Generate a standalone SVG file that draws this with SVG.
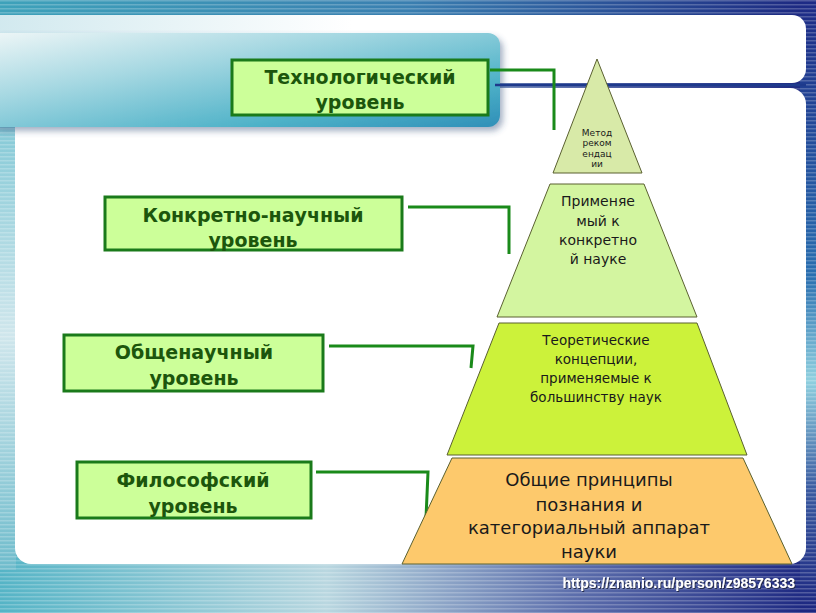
<svg xmlns="http://www.w3.org/2000/svg" width="816" height="613" viewBox="0 0 816 613">
<defs>
  <linearGradient id="bgH" x1="0" y1="0" x2="1" y2="0">
    <stop offset="0" stop-color="#55b4c6"/>
    <stop offset="0.4" stop-color="#b9d7e0"/>
    <stop offset="0.7" stop-color="#5d6fac"/>
    <stop offset="1" stop-color="#1b2680"/>
  </linearGradient>
  <linearGradient id="topBand" x1="0" y1="0" x2="1" y2="0">
    <stop offset="0" stop-color="#3ea2ba"/>
    <stop offset="0.5" stop-color="#3a7fb0"/>
    <stop offset="1" stop-color="#1c2680"/>
  </linearGradient>
  <linearGradient id="rightStrip" x1="0" y1="0" x2="0" y2="1">
    <stop offset="0" stop-color="#1d2a85"/>
    <stop offset="0.45" stop-color="#2a6fb0"/>
    <stop offset="0.62" stop-color="#8fd0df"/>
    <stop offset="0.8" stop-color="#3a5aa0"/>
    <stop offset="1" stop-color="#1c2680"/>
  </linearGradient>
  <linearGradient id="leftStrip" x1="0" y1="0" x2="0" y2="1">
    <stop offset="0" stop-color="#7cc6d4"/>
    <stop offset="0.5" stop-color="#cfe6ec"/>
    <stop offset="1" stop-color="#6fbccc"/>
  </linearGradient>
  <linearGradient id="tealBlock" x1="0" y1="0" x2="1" y2="1">
    <stop offset="0" stop-color="#eef6f7"/>
    <stop offset="0.35" stop-color="#a6d8e2"/>
    <stop offset="0.75" stop-color="#4eb2c8"/>
    <stop offset="1" stop-color="#2f8fb8"/>
  </linearGradient>
  <linearGradient id="upperWhite" x1="0" y1="0" x2="1" y2="0">
    <stop offset="0" stop-color="#cfe8ee"/>
    <stop offset="0.45" stop-color="#ffffff"/>
    <stop offset="1" stop-color="#ffffff"/>
  </linearGradient>
  <pattern id="stripes" width="4" height="4" patternUnits="userSpaceOnUse">
    <rect x="0" y="0" width="4" height="1.5" fill="#ffffff" opacity="0.22"/>
  </pattern>
  <filter id="shadow" x="-10%" y="-10%" width="130%" height="140%">
    <feDropShadow dx="3" dy="4" stdDeviation="3" flood-color="#33507a" flood-opacity="0.45"/>
  </filter>
  <filter id="txtShadow" x="-5%" y="-30%" width="110%" height="160%">
    <feDropShadow dx="1" dy="1" stdDeviation="0.6" flood-color="#1a2040" flood-opacity="0.9"/>
  </filter>
</defs>
<style>
  .lbl { fill: #ccff99; stroke: #1a7a1a; stroke-width: 3; }
  .lt { font-family: "DejaVu Sans", Verdana, sans-serif; font-weight: bold; font-size: 19px; fill: #1c560c; text-anchor: middle; }
  .pt { font-family: "DejaVu Sans", Verdana, sans-serif; fill: #1a1a1a; text-anchor: middle; }
  .pyr { stroke: #5a6030; stroke-width: 1; }
  .con { fill: none; stroke: #1a8a1a; stroke-width: 3; }
</style>

<!-- background -->
<rect x="0" y="0" width="816" height="613" fill="url(#bgH)"/>
<rect x="0" y="0" width="816" height="30" fill="url(#topBand)"/>
<rect x="800" y="0" width="16" height="613" fill="url(#rightStrip)"/>
<rect x="0" y="100" width="16" height="470" fill="url(#leftStrip)"/>
<rect x="0" y="0" width="816" height="613" fill="url(#stripes)"/>

<!-- panels -->
<rect x="-20" y="15" width="826" height="68" rx="14" fill="url(#upperWhite)"/>
<rect x="15" y="88" width="791" height="476" rx="16" fill="#ffffff"/>
<rect x="-12" y="33" width="512" height="94" rx="12" fill="url(#tealBlock)" filter="url(#shadow)"/>
<line x1="495" y1="85" x2="806" y2="85" stroke="#1e3a8c" stroke-width="2.5"/>

<!-- connectors -->
<g id="connectors">
  <polyline class="con" points="490,70 554,70 554,130"/>
  <polyline class="con" points="408,207 509,207 509,254"/>
  <polyline class="con" points="329,346 473,346 471,368"/>
  <polyline class="con" points="316,472 428,472 426,518"/>
</g>

<!-- level labels -->
<g id="tech">
  <rect class="lbl" x="232" y="60" width="256" height="55"/>
  <text class="lt" x="360" y="84">Технологический</text>
  <text class="lt" x="360" y="109">уровень</text>
</g>
<g id="concrete">
  <rect class="lbl" x="105" y="197" width="297" height="53"/>
  <text class="lt" x="253" y="222">Конкретно-научный</text>
  <text class="lt" x="253" y="247">уровень</text>
</g>
<g id="general">
  <rect class="lbl" x="64" y="335" width="259" height="56"/>
  <text class="lt" x="194" y="359">Общенаучный</text>
  <text class="lt" x="194" y="385">уровень</text>
</g>
<g id="philo">
  <rect class="lbl" x="77" y="462" width="234" height="56"/>
  <text class="lt" x="193" y="487">Философский</text>
  <text class="lt" x="193" y="513">уровень</text>
</g>

<!-- pyramid -->
<g id="pyr1">
  <polygon class="pyr" points="597,59 642,173 553,173" fill="#d8eaa8"/>
  <text class="pt" font-size="9" x="597" y="135.5">Метод</text>
  <text class="pt" font-size="9" x="597" y="146">реком</text>
  <text class="pt" font-size="9" x="597" y="156.5">ендац</text>
  <text class="pt" font-size="9" x="597" y="167">ии</text>
</g>
<g id="pyr2">
  <polygon class="pyr" points="550,184 644,184 697,317 497,317" fill="#d3f5a0"/>
  <text class="pt" font-size="14" x="598" y="206">Применяе</text>
  <text class="pt" font-size="14" x="598" y="226">мый к</text>
  <text class="pt" font-size="14" x="598" y="245">конкретно</text>
  <text class="pt" font-size="14" x="598" y="264">й науке</text>
</g>
<g id="pyr3">
  <polygon class="pyr" points="499,323 697,323 747,455 447,455" fill="#ccf23a"/>
  <text class="pt" font-size="13.5" x="596" y="345">Теоретические</text>
  <text class="pt" font-size="13.5" x="596" y="364">концепции,</text>
  <text class="pt" font-size="13.5" x="596" y="383">применяемые к</text>
  <text class="pt" font-size="13.5" x="596" y="402">большинству наук</text>
</g>
<g id="pyr4">
  <polygon class="pyr" points="452,458 743,458 792,564 402,564" fill="#fdc96c"/>
  <text class="pt" font-size="18" x="589" y="486">Общие принципы</text>
  <text class="pt" font-size="18" x="589" y="511">познания и</text>
  <text class="pt" font-size="18" x="589" y="534">категориальный аппарат</text>
  <text class="pt" font-size="18" x="589" y="558">науки</text>
</g>

<text x="795" y="588" font-family="'Liberation Sans', Arial, sans-serif" font-weight="bold" font-size="14" fill="#ffffff" text-anchor="end" filter="url(#txtShadow)">https://znanio.ru/person/z98576333</text>
</svg>
